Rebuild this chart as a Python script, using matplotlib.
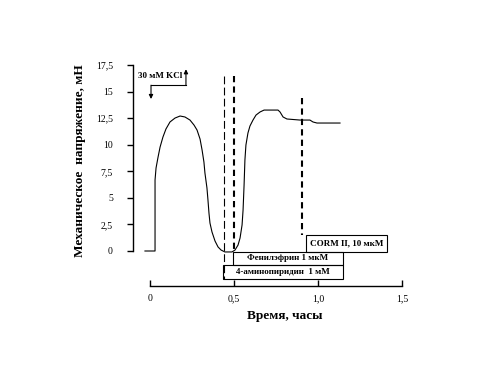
import matplotlib
matplotlib.use("Agg")
import matplotlib.pyplot as plt
from matplotlib.patches import Rectangle

plt.rcParams['font.family'] = ['Liberation Serif', 'DejaVu Serif']

#%% DATA

time_h = [-0.030, 0.030, 0.030, 0.036, 0.048, 0.060, 0.077, 0.095, 0.119, 0.149,
          0.179, 0.208, 0.238, 0.262, 0.280, 0.298, 0.310, 0.321, 0.327, 0.339,
          0.345, 0.351, 0.357, 0.369, 0.387, 0.405, 0.423, 0.446, 0.488, 0.506,
          0.524, 0.536, 0.548, 0.554, 0.560, 0.565, 0.571, 0.583, 0.595, 0.613,
          0.631, 0.655, 0.679, 0.702, 0.762, 0.774, 0.792, 0.815, 0.893, 0.952,
          0.970, 0.994, 1.131]
tension_mN = [0.00, 0.00, 6.68, 7.81, 8.84, 9.78, 10.72, 11.48, 12.14, 12.51,
              12.70, 12.61, 12.32, 11.85, 11.38, 10.53, 9.50, 8.37, 7.34, 5.93,
              4.80, 3.57, 2.63, 1.79, 0.94, 0.38, 0.09, -0.09, -0.09, 0.09,
              0.56, 1.22, 2.45, 3.86, 6.21, 8.56, 9.97, 11.10, 11.76, 12.32,
              12.79, 13.08, 13.26, 13.26, 13.26, 13.08, 12.61, 12.42, 12.32, 12.32,
              12.14, 12.04, 12.04]

drug_times = [0.44, 0.498, 0.903]          # moments of drug addition
x_ticks = [0, 0.5, 1.0, 1.5]
x_tick_labels = ["0", "0,5", "1,0", "1,5"]
y_ticks = [0, 2.5, 5, 7.5, 10, 12.5, 15, 17.5]
y_tick_labels = ["0", "2,5", "5", "7,5", "10", "12,5", "15", "17,5"]

#%% FIGURE

fig = plt.figure(figsize=(4.9, 3.67), dpi=100)
ax = fig.add_axes([150/490, 116/367, 252/490, 186/367])

ax.plot(time_h, tension_mN, color="black", lw=0.8, clip_on=False)

ax.set_xlim(0, 1.5)
ax.set_ylim(0, 17.5)

for s in ["top", "right"]:
    ax.spines[s].set_visible(False)
ax.spines["left"].set_position(("outward", 12.2))
ax.spines["bottom"].set_position(("outward", 25.2))
ax.spines["left"].set_linewidth(1.0)
ax.spines["bottom"].set_linewidth(1.0)

ax.set_xticks(x_ticks)
ax.set_xticklabels(x_tick_labels, fontsize=7)
ax.set_yticks(y_ticks)
ax.set_yticklabels(y_tick_labels, fontsize=7)
ax.tick_params(axis="x", direction="in", length=4, width=1.0, pad=6)
ax.tick_params(axis="y", direction="out", length=4.5, width=1.0, pad=10)

# drug addition lines
ax.plot([drug_times[0]] * 2, [16.5, -2.63], color="black", lw=0.8,
        ls=(0, (7, 3)), clip_on=False)
ax.plot([drug_times[1]] * 2, [16.5, -0.09], color="black", lw=1.5,
        ls=(0, (3, 2)), clip_on=False)
ax.plot([drug_times[2]] * 2, [14.4, 1.5], color="black", lw=1.5,
        ls=(0, (3, 2)), clip_on=False)

# boxes with drug names
boxes = [((0.435, -2.63), 0.714, 1.31, "4-аминопиридин  1 мМ"),
         ((0.494, -1.32), 0.655, 1.23, "Фенилэфрин 1 мкМ"),
         ((0.929, -0.09), 0.482, 1.59, "CORM II, 10 мкМ")]
for (x0, y0), w, h, txt in boxes:
    ax.add_patch(Rectangle((x0, y0), w, h, fill=False, ec="black", lw=0.8,
                           clip_on=False))
    ax.text(x0 + w / 2, y0 + h / 2, txt, ha="center", va="center",
            fontsize=6.5, fontweight="bold", clip_on=False)

# KCl marker
ax.text(-0.071, 16.45, "30 мМ KCl", fontsize=6.5, fontweight="bold",
        ha="left", va="center")
ax.plot([0.006, 0.214], [15.6, 15.6], color="black", lw=0.8, clip_on=False)
ax.annotate("", xy=(0.006, 14.3), xytext=(0.006, 15.6),
            arrowprops=dict(arrowstyle="-|>", color="black", lw=0.8,
                            mutation_scale=6, shrinkA=0, shrinkB=0),
            annotation_clip=False)
ax.annotate("", xy=(0.214, 17.1), xytext=(0.214, 15.6),
            arrowprops=dict(arrowstyle="-|>", color="black", lw=0.8,
                            mutation_scale=6, shrinkA=0, shrinkB=0),
            annotation_clip=False)

fig.text(80/490, 1 - 161/367, "Механическое  напряжение, мН", rotation=90,
         ha="center", va="center", fontsize=9.5, fontweight="bold")
fig.text(285/490, 1 - 316/367, "Время, часы", ha="center", va="center",
         fontsize=9.5, fontweight="bold")

plt.savefig("out.png", dpi=100)
